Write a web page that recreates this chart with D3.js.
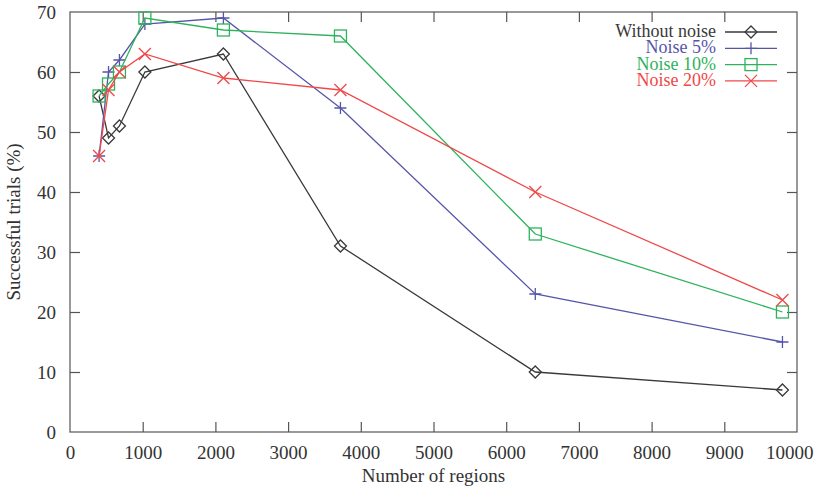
<!DOCTYPE html>
<html>
<head>
<meta charset="utf-8">
<script src="https://cdn.jsdelivr.net/npm/d3@7"></script>
<style>
  body { margin: 0; background: #fff; }
  text { font-family: "Liberation Serif", "Times New Roman", serif; }
</style>
</head>
<body>
<div id="chart"></div>
<script>
// data
var regions = [400, 530, 680, 1030, 2110, 3720, 6400, 9800];
var withoutNoise = [56, 49, 51, 60, 63, 31, 10, 7];
var noise5 = [46, 60, 62, 68, 69, 54, 23, 15];
var noise10 = [56, 58, 60, 69, 67, 66, 33, 20];
var noise20 = [46, 57, 60, 63, 59, 57, 40, 22];
var seriesNames = ["Without noise", "Noise 5%", "Noise 10%", "Noise 20%"];
var xTicks = [0, 1000, 2000, 3000, 4000, 5000, 6000, 7000, 8000, 9000, 10000];
var yTicks = [0, 10, 20, 30, 40, 50, 60, 70];

var colors = ["#3a3a3a", "#5656a8", "#2eb35c", "#f04848"];
var symbols = ["diamond", "plus", "square", "cross"];
var allSeries = [withoutNoise, noise5, noise10, noise20];

var width = 815, height = 490;
var margin = { top: 12, right: 18, bottom: 58, left: 70 };
var serif = "'Liberation Serif', 'Times New Roman', serif";

var svg = d3.select("#chart").append("svg")
    .attr("width", width)
    .attr("height", height);

var x = d3.scaleLinear().domain([0, 10000]).range([margin.left, width - margin.right]);
var y = d3.scaleLinear().domain([0, 70]).range([height - margin.bottom, margin.top]);

var frame = "#555";
var tickLen = 10;

// box
svg.append("rect")
    .attr("x", x(0)).attr("y", y(70))
    .attr("width", x(10000) - x(0)).attr("height", y(0) - y(70))
    .style("fill", "none").style("stroke", frame).style("stroke-width", 1.2);

// ticks, gnuplot style: inside and mirrored
var bottomAxis = d3.axisBottom(x).tickValues(xTicks).tickSizeInner(-tickLen).tickSizeOuter(0).tickPadding(14).tickFormat(d3.format("d"));
var topAxis = d3.axisTop(x).tickValues(xTicks).tickSizeInner(-tickLen).tickSizeOuter(0).tickFormat("");
var leftAxis = d3.axisLeft(y).tickValues(yTicks).tickSizeInner(-tickLen).tickSizeOuter(0).tickPadding(14);
var rightAxis = d3.axisRight(y).tickValues(yTicks).tickSizeInner(-tickLen).tickSizeOuter(0).tickFormat("");

function styleAxis(g) {
    g.attr("font-family", null).attr("font-size", null);
    g.select(".domain").remove();
    g.selectAll("line").style("stroke", frame).style("stroke-width", 1.2);
    g.selectAll("text")
        .style("font-family", serif)
        .style("font-size", "19px")
        .style("fill", "#333");
}

var xg = svg.append("g").attr("transform", "translate(0," + y(0) + ")").call(bottomAxis).call(styleAxis);
svg.append("g").attr("transform", "translate(0," + y(70) + ")").call(topAxis).call(styleAxis);
svg.append("g").attr("transform", "translate(" + x(0) + ",0)").call(leftAxis).call(styleAxis);
svg.append("g").attr("transform", "translate(" + x(10000) + ",0)").call(rightAxis).call(styleAxis);

// last x label is pulled in so it fits the page
xg.selectAll(".tick text").filter(function(d) { return d === 10000; })
    .attr("text-anchor", "end").attr("x", width - 2 - x(10000));

// skip the end ticks that would sit on the frame
svg.selectAll(".tick line").filter(function(d) { return d === 0 || d === 10000 || d === 70; }).remove();

// axis titles
svg.append("text")
    .attr("x", (x(0) + x(10000)) / 2)
    .attr("y", height - 8)
    .attr("text-anchor", "middle")
    .style("font-family", serif)
    .style("font-size", "19px").style("fill", "#333")
    .text("Number of regions");

svg.append("text")
    .attr("transform", "translate(20," + ((y(0) + y(70)) / 2) + ") rotate(-90)")
    .attr("text-anchor", "middle")
    .style("font-family", serif)
    .style("font-size", "19px").style("fill", "#333")
    .text("Successful trials (%)");

// marker drawing
function drawMarker(g, type, cx, cy, color) {
    if (type === "diamond") {
        g.append("path")
            .attr("d", "M" + cx + "," + (cy - 6) + "L" + (cx + 6) + "," + cy + "L" + cx + "," + (cy + 6) + "L" + (cx - 6) + "," + cy + "Z")
            .style("fill", "none").style("stroke", color).style("stroke-width", 1.3);
    } else if (type === "square") {
        g.append("rect")
            .attr("x", cx - 6).attr("y", cy - 6).attr("width", 12).attr("height", 12)
            .style("fill", "none").style("stroke", color).style("stroke-width", 1.3);
    } else if (type === "plus") {
        g.append("path")
            .attr("d", "M" + (cx - 6) + "," + cy + "H" + (cx + 6) + "M" + cx + "," + (cy - 6) + "V" + (cy + 6))
            .style("stroke", color).style("stroke-width", 1.3);
    } else {
        g.append("path")
            .attr("d", "M" + (cx - 6) + "," + (cy - 6) + "L" + (cx + 6) + "," + (cy + 6) + "M" + (cx + 6) + "," + (cy - 6) + "L" + (cx - 6) + "," + (cy + 6))
            .style("stroke", color).style("stroke-width", 1.3);
    }
}

var line = d3.line()
    .x(function(d) { return x(d[0]); })
    .y(function(d) { return y(d[1]); });

allSeries.forEach(function(vals, i) {
    var pts = regions.map(function(r, j) { return [r, vals[j]]; });
    var g = svg.append("g");
    g.append("path")
        .datum(pts)
        .attr("d", line)
        .style("fill", "none")
        .style("stroke", colors[i])
        .style("stroke-width", 1.3);
    pts.forEach(function(p) {
        drawMarker(g, symbols[i], x(p[0]), y(p[1]), colors[i]);
    });
});

// legend
var legend = svg.append("g");
seriesNames.forEach(function(name, i) {
    var ly = 32 + i * 16.3;
    legend.append("text")
        .attr("x", 716).attr("y", ly + 5)
        .attr("text-anchor", "end")
        .style("font-family", serif)
        .style("font-size", "18px")
        .style("fill", colors[i])
        .text(name);
    legend.append("line")
        .attr("x1", 725).attr("x2", 777).attr("y1", ly).attr("y2", ly)
        .style("stroke", colors[i]).style("stroke-width", 1.3);
    drawMarker(legend, symbols[i], 751, ly, colors[i]);
});
</script>
</body>
</html>
